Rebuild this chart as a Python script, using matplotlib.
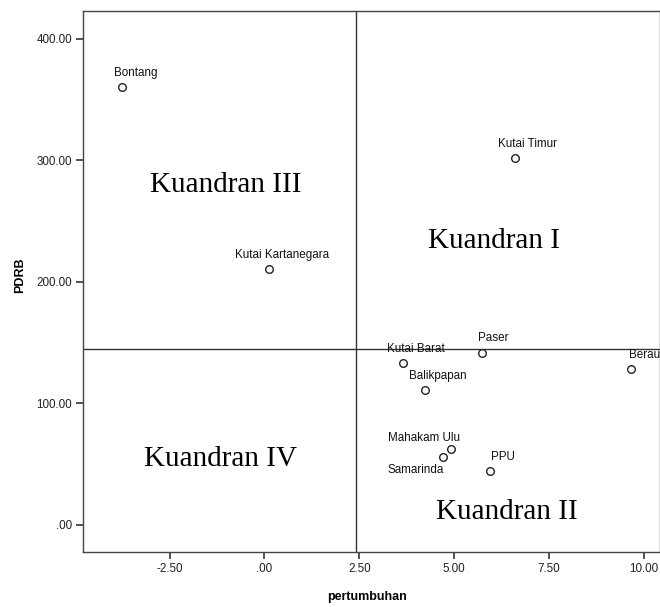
import matplotlib
matplotlib.use("Agg")
import matplotlib.pyplot as plt
from matplotlib.ticker import FuncFormatter

# data (pertumbuhan vs PDRB)
regions = ["Bontang", "Kutai Kartanegara", "Kutai Timur", "Kutai Barat", "Paser",
           "Berau", "Balikpapan", "Mahakam Ulu", "Samarinda", "PPU"]
growth = [-3.74, 0.11, 6.60, 3.64, 5.73, 9.66, 4.22, 4.91, 4.70, 5.94]
pdrb = [360.3, 210.9, 302.0, 133.4, 141.2, 128.0, 111.0, 62.1, 55.5, 44.0]

mean_growth = 2.42
mean_pdrb = 144.5

quadrants = ["Kuandran III", "Kuandran I", "Kuandran IV", "Kuandran II"]
quad_x = [-1.03, 6.04, -1.16, 6.39]
quad_y = [279.8, 233.5, 54.0, 10.5]

xticks = [-2.5, 0, 2.5, 5, 7.5, 10]
yticks = [0, 100, 200, 300, 400]

# label offsets in pixels (most labels sit above-right, two sit left)
offsets = {"Mahakam Ulu": (-27, 11), "Samarinda": (-27, -13), "Paser": (11, 15)}


def fmt(v, pos):
    s = "%.2f" % v
    if s.startswith("0."):
        s = s[1:]
    return s


fig = plt.figure(figsize=(6.6, 6.07), dpi=100)
ax = fig.add_axes([83 / 660, 1 - 552.3 / 607, 1 - 83 / 660, (552.3 - 11) / 607])

ax.axvline(mean_growth, color="#333333", lw=1.0, zorder=1)
ax.axhline(mean_pdrb, color="#333333", lw=1.0, zorder=1)

ax.plot(growth, pdrb, "o", ms=5.5, mfc="white", mec="#222222", mew=1.0, zorder=3)

for name, x, y in zip(regions, growth, pdrb):
    dx, dy = offsets.get(name, (13, 14))
    ax.annotate(name, (x, y), xytext=(dx, dy), textcoords="offset pixels",
                ha="center", va="center", fontsize=8.4,
                family="Liberation Sans", color="#111111", zorder=4)

for t, x, y in zip(quadrants, quad_x, quad_y):
    ax.text(x, y, t, ha="center", va="center", fontsize=21,
            family="Liberation Serif", color="black")

ax.set_xlim(-4.78, 10.42)
ax.set_ylim(-22.7, 423)
ax.set_xticks(xticks)
ax.set_yticks(yticks)
ax.xaxis.set_major_formatter(FuncFormatter(fmt))
ax.yaxis.set_major_formatter(FuncFormatter(fmt))
ax.tick_params(direction="out", length=5, width=1.2, color="#333333",
               labelsize=8.4, labelcolor="#222222", pad=3)
for lab in ax.get_xticklabels() + ax.get_yticklabels():
    lab.set_family("Liberation Sans")

for s in ax.spines.values():
    s.set_color("#444444")
    s.set_linewidth(1.0)

fig.text(367 / 660, 1 - 597 / 607, "pertumbuhan", ha="center", va="center",
         fontsize=9, fontweight="bold", family="Liberation Sans")
fig.text(20 / 660, 1 - 275 / 607, "PDRB", ha="center", va="center", rotation=90,
         fontsize=9, fontweight="bold", family="Liberation Sans")

fig.savefig("out.png", dpi=100)
